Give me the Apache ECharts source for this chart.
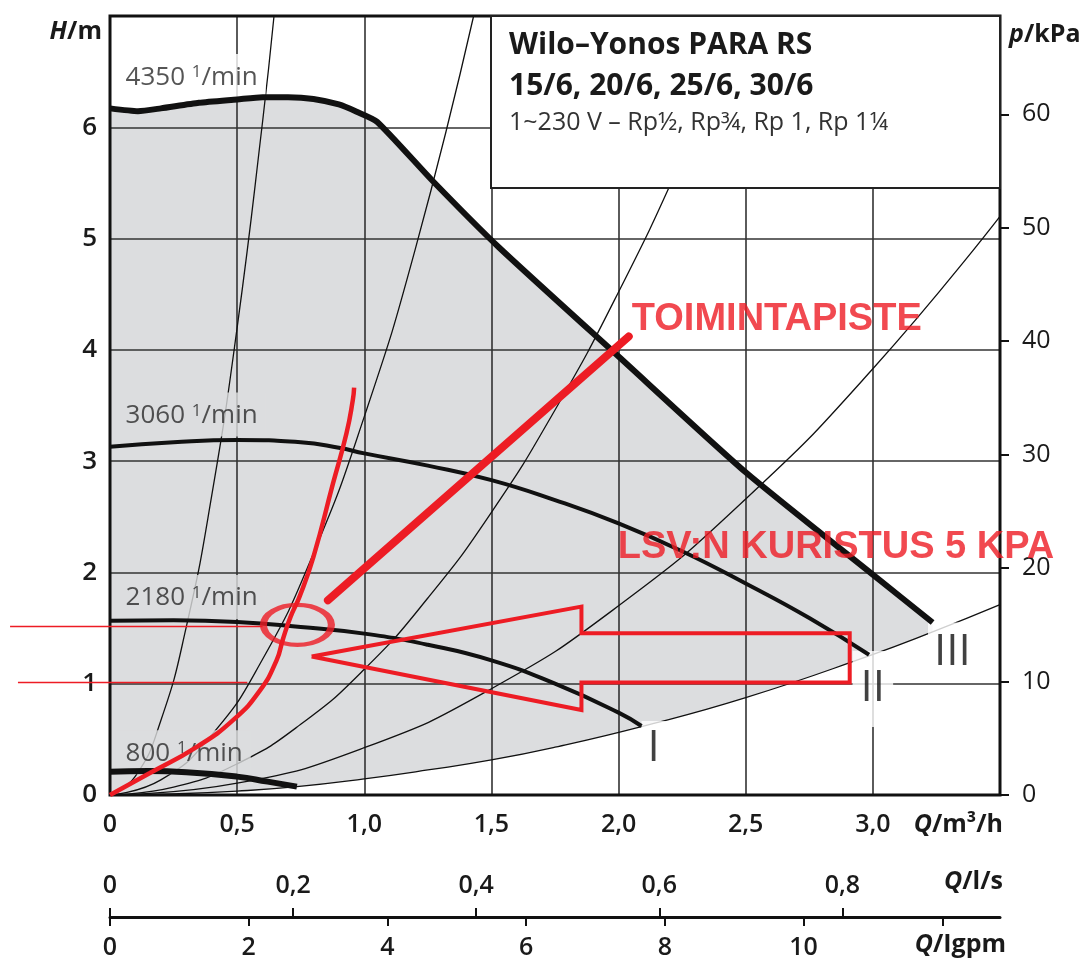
<!DOCTYPE html>
<html>
<head>
<meta charset="utf-8">
<script src="https://cdn.jsdelivr.net/npm/echarts@6/dist/echarts.min.js"></script>
<style>
  html, body { margin: 0; padding: 0; background: #fff; }
  #chart { width: 1086px; height: 966px; }
</style>
</head>
<body>
<div id="chart"></div>
<script>
// Q in m³/h, H in m
const maxCurve = [[0, 6.17], [0.11, 6.145], [0.2, 6.17], [0.35, 6.22], [0.5, 6.25], [0.6, 6.27], [0.7, 6.27], [0.8, 6.255], [0.9, 6.205], [0.97, 6.14], [1.05, 6.05], [1.27, 5.515], [1.53, 4.92], [2.0, 3.94], [2.5, 2.90], [3.0, 1.98], [3.235, 1.55]];
const curve3060 = [[0, 3.13], [0.25, 3.17], [0.5, 3.19], [0.75, 3.17], [0.9, 3.12], [1.0, 3.07], [1.25, 2.96], [1.5, 2.83], [1.75, 2.65], [2.0, 2.44], [2.25, 2.19], [2.5, 1.90], [2.75, 1.59], [2.985, 1.26]];
const curve2180 = [[0, 1.565], [0.25, 1.57], [0.5, 1.555], [0.75, 1.51], [1.0, 1.45], [1.25, 1.35], [1.5, 1.21], [1.75, 1.0], [2.0, 0.74], [2.09, 0.62]];
const curve800 = [[0, 0.21], [0.15, 0.215], [0.3, 0.205], [0.5, 0.165], [0.62, 0.12], [0.735, 0.075]];
const lowerCurve = [[0, 0], [0.25, 0.01], [0.5, 0.035], [0.735, 0.075], [1.0, 0.145], [1.25, 0.225], [1.5, 0.315], [1.75, 0.43], [2.09, 0.615], [2.5, 0.875], [2.985, 1.25], [3.235, 1.465], [3.5, 1.71]];
// thin system curves from the origin
const sysA = [[0, 0], [0.1, 0.17], [0.2, 0.67], [0.3, 1.51], [0.4, 2.69], [0.5, 4.2], [0.6, 6.05], [0.645, 7.0]];
const sysB = [[0, 0], [0.2, 0.136], [0.4, 0.54], [0.6, 1.22], [0.8, 2.17], [1.0, 3.4], [1.2, 4.9], [1.43, 7.0]];
const sysC = [[0, 0], [0.25, 0.07], [0.5, 0.28], [0.75, 0.635], [1.0, 1.13], [1.25, 1.77], [1.5, 2.54], [1.75, 3.46], [2.0, 4.52], [2.25, 5.72], [2.49, 7.0]];
const sysD = [[0, 0], [0.5, 0.106], [1.0, 0.425], [1.5, 0.955], [2.0, 1.7], [2.5, 2.66], [3.0, 3.83], [3.5, 5.2]];

const speedNames = ['4350', '3060', '2180', '800'];
const speedPos = [[0.02, 6.46], [0.02, 3.42], [0.02, 1.78], [0.02, 0.385]];
const stageNames = ['I', 'II', 'III'];
const stagePos = [[2.138, 0.414], [3.0, 0.953], [3.313, 1.28]];

// red hand-drawn annotations
const redCurve = [[0, 0], [0.157, 0.197], [0.34, 0.43], [0.485, 0.675], [0.59, 0.94], [0.655, 1.21], [0.68, 1.40], [0.71, 1.6], [0.745, 1.78], [0.80, 2.14], [0.877, 2.8], [0.93, 3.25], [0.955, 3.55], [0.96, 3.66]];
const redPointer = [[0.857, 1.75], [2.04, 4.12]];
// guide lines running out past the left axis: [Q from, Q to, H]
const redGuides = [[-0.393, 0.60, 1.515], [-0.362, 0.54, 1.01]];
const redArrow = [[0.793, 1.244], [1.854, 1.693], [1.854, 1.454], [2.909, 1.454], [2.909, 1.01], [1.854, 1.01], [1.854, 0.764], [0.793, 1.244]];
const redRing = [[0.737, 1.529]];
const redTexts = ['TOIMINTAPISTE', 'LSV:N KURISTUS 5 KPA'];
const redTextPos = [[2.05, 4.27], [1.995, 2.22]];

const qTickLabels = ['0', '0,5', '1,0', '1,5', '2,0', '2,5', '3,0'];
const hTickLabels = ['0', '1', '2', '3', '4', '5', '6'];
const kpaTicks = [0, 10, 20, 30, 40, 50, 60];
const lsTicks = [0, 0.2, 0.4, 0.6, 0.8];
const lsTickLabels = ['0', '0,2', '0,4', '0,6', '0,8'];
const gpmTicks = [0, 2, 4, 6, 8, 10, 12];
const gpmTickLabels = ['0', '2', '4', '6', '8', '10', ''];

const FONT = 'Open Sans';
const RED = '#ed1c24';
const GRAY = '#dcdddf';
const INK = '#1a1a1a';

const chart = echarts.init(document.getElementById('chart'));

function lineSeries(data, width, z, extra) {
  return Object.assign({
    type: 'line', data: data, showSymbol: false, symbol: 'none', silent: true, z: z,
    smooth: true, lineStyle: { color: '#111', width: width }
  }, extra || {});
}

function axisName(text, pos) {
  return Object.assign({
    type: 'text', z: 11,
    style: {
      text: text, fill: INK,
      rich: { i: { font: 'italic bold 25px "Open Sans"' }, b: { font: 'bold 25px "Open Sans"' } }
    }
  }, pos);
}

chart.setOption({
  backgroundColor: '#fff',
  animation: false,
  grid: {
    left: 110, right: 86, top: 16, bottom: 171,
    show: true, z: 8, backgroundColor: 'transparent',
    borderColor: '#111', borderWidth: 3
  },
  xAxis: [
    {
      type: 'value', min: 0, max: 3.5, interval: 0.5, position: 'bottom', z: 3,
      axisLine: { show: false, onZero: false }, axisTick: { show: false },
      axisLabel: {
        margin: 17, fontSize: 25, fontWeight: 600, color: INK, fontFamily: FONT,
        formatter: (v, i) => qTickLabels[i] || ''
      },
      splitLine: { show: true, lineStyle: { color: '#333', width: 1.6 } }
    },
    {
      type: 'value', min: 0, max: 3.5 / 3.6, position: 'bottom', offset: 122,
      axisLine: { show: true, onZero: false, lineStyle: { color: '#111', width: 3 } },
      axisTick: { show: true, inside: true, length: 9, customValues: lsTicks, lineStyle: { color: '#111', width: 2 } },
      axisLabel: {
        inside: true, margin: 19, fontSize: 25, fontWeight: 600, color: INK, fontFamily: FONT,
        customValues: lsTicks, formatter: v => lsTickLabels[lsTicks.indexOf(v)]
      },
      splitLine: { show: false }
    },
    {
      type: 'value', min: 0, max: 3.5 / 0.27277, position: 'bottom', offset: 122,
      axisLine: { show: false, onZero: false },
      axisTick: { show: true, length: 9, customValues: gpmTicks, lineStyle: { color: '#111', width: 2 } },
      axisLabel: {
        margin: 18, fontSize: 25, fontWeight: 600, color: INK, fontFamily: FONT,
        customValues: gpmTicks, formatter: v => gpmTickLabels[gpmTicks.indexOf(v)]
      },
      splitLine: { show: false }
    }
  ],
  yAxis: [
    {
      type: 'value', min: 0, max: 7, interval: 1, position: 'left', z: 3,
      axisLine: { show: false, onZero: false }, axisTick: { show: false },
      axisLabel: {
        margin: 13, fontSize: 26, fontWeight: 600, color: INK, fontFamily: FONT,
        formatter: (v, i) => hTickLabels[i] || ''
      },
      splitLine: { show: true, lineStyle: { color: '#333', width: 1.6 } }
    },
    {
      type: 'value', min: 0, max: 7 * 9.81, position: 'right', z: 3,
      axisLine: { show: false, onZero: false },
      axisTick: { show: true, length: 9, customValues: kpaTicks, lineStyle: { color: '#111', width: 2 } },
      axisLabel: {
        margin: 22, fontSize: 25, color: INK, fontFamily: FONT,
        customValues: kpaTicks, formatter: v => String(v)
      },
      splitLine: { show: false }
    }
  ],
  graphic: [
    {
      type: 'rect', z: 10, silent: true,
      shape: { x: 491, y: 16, width: 509, height: 172 },
      style: { fill: '#fff', stroke: '#222', lineWidth: 2 }
    },
    {
      type: 'text', z: 11, left: 509, top: 30,
      style: { text: 'Wilo–Yonos PARA RS', font: 'bold 30px "Open Sans"', fill: INK }
    },
    {
      type: 'text', z: 11, left: 509, top: 71,
      style: { text: '15/6, 20/6, 25/6, 30/6', font: 'bold 30px "Open Sans"', fill: INK }
    },
    {
      type: 'text', z: 11, left: 509, top: 110,
      style: { text: '1~230 V – Rp½, Rp¾, Rp 1, Rp 1¼', font: '25px "Open Sans"', fill: '#333' }
    },
    axisName('{i|H}{b|/m}', { right: 1086 - 102, top: 19 }),
    axisName('{i|p}{b|/kPa}', { left: 1009, top: 22 }),
    axisName('{i|Q}{b|/m³/h}', { right: 1086 - 1003, top: 812 }),
    axisName('{i|Q}{b|/l/s}', { right: 1086 - 1003, top: 869 }),
    axisName('{i|Q}{b|/Igpm}', { right: 1086 - 1006, top: 932 })
  ],
  series: [
    // working range fill: grey under the max curve, white under the lowest system curve
    lineSeries(maxCurve, 0, 1, { smooth: 0.2, areaStyle: { color: GRAY, opacity: 1 } }),
    lineSeries(lowerCurve, 0, 2, { areaStyle: { color: '#fff', opacity: 1 } }),
    // thin system curves
    lineSeries(sysA, 1.3, 4),
    lineSeries(sysB, 1.3, 4),
    lineSeries(sysC, 1.3, 4),
    lineSeries(sysD, 1.3, 4),
    lineSeries(lowerCurve, 1.3, 4),
    // speed labels
    {
      type: 'scatter', z: 5, silent: true, symbolSize: 1,
      itemStyle: { color: 'rgba(0,0,0,0)' },
      data: speedPos.map((p, i) => ({
        value: p,
        label: { backgroundColor: i === 0 ? '#fff' : GRAY }
      })),
      label: {
        show: true, position: 'right', distance: 0, padding: [10, 8, 8, 10],
        color: '#2b2b2b', fontFamily: FONT, fontSize: 26,
        formatter: p => '{n|' + speedNames[p.dataIndex] + ' }{s|1}{n|/min}',
        rich: {
          n: { fontSize: 26, fontFamily: FONT, color: '#2b2b2b' },
          s: { fontSize: 17, fontFamily: FONT, color: '#2b2b2b', verticalAlign: 'top' }
        }
      }
    },
    // speed stage labels
    {
      type: 'scatter', z: 5, silent: true, symbolSize: 1,
      itemStyle: { color: 'rgba(0,0,0,0)' },
      data: stagePos.map((p, i) => ({
        value: p,
        label: { padding: i === 1 ? [16, 8] : (i === 2 ? [12, 6, 4, 6] : [6, 6]) }
      })),
      label: {
        show: true, position: 'inside', backgroundColor: '#fff',
        color: '#111', fontFamily: FONT, fontSize: 44,
        formatter: p => stageNames[p.dataIndex]
      }
    },
    // speed curves
    lineSeries(maxCurve, 6, 6, { smooth: 0.2 }),
    lineSeries(curve3060, 4, 6),
    lineSeries(curve2180, 4, 6),
    lineSeries(curve800, 6, 6),
    // red annotations
    lineSeries(redCurve, 4.5, 20, { lineStyle: { color: RED, width: 4.5 } }),
    lineSeries(redPointer, 8, 20, { smooth: false, lineStyle: { color: RED, width: 8, cap: 'round' } }),
    {
      type: 'custom', z: 20, silent: true, clip: false,
      data: redGuides,
      encode: { x: [0, 1], y: 2 },
      renderItem: (params, api) => {
        const a = api.coord([api.value(0), api.value(2)]);
        const b = api.coord([api.value(1), api.value(2)]);
        return {
          type: 'line',
          shape: { x1: a[0], y1: a[1], x2: b[0], y2: b[1] },
          style: { stroke: RED, lineWidth: 1.5 }
        };
      }
    },
    lineSeries(redArrow, 4, 20, { smooth: false, lineStyle: { color: RED, width: 4, join: 'miter' } }),
    {
      type: 'scatter', z: 20, silent: true, symbol: 'circle', symbolSize: [68, 40],
      data: redRing,
      itemStyle: { color: 'rgba(0,0,0,0)', borderColor: RED, borderWidth: 5.5 }
    },
    {
      type: 'scatter', z: 20, silent: true, symbolSize: 1,
      itemStyle: { color: 'rgba(0,0,0,0)' },
      data: redTextPos,
      label: {
        show: true, position: 'right', distance: 0,
        color: RED, fontFamily: 'Liberation Sans', fontWeight: 'bold', fontSize: 38,
        formatter: p => redTexts[p.dataIndex]
      }
    }
  ]
});
</script>
</body>
</html>
